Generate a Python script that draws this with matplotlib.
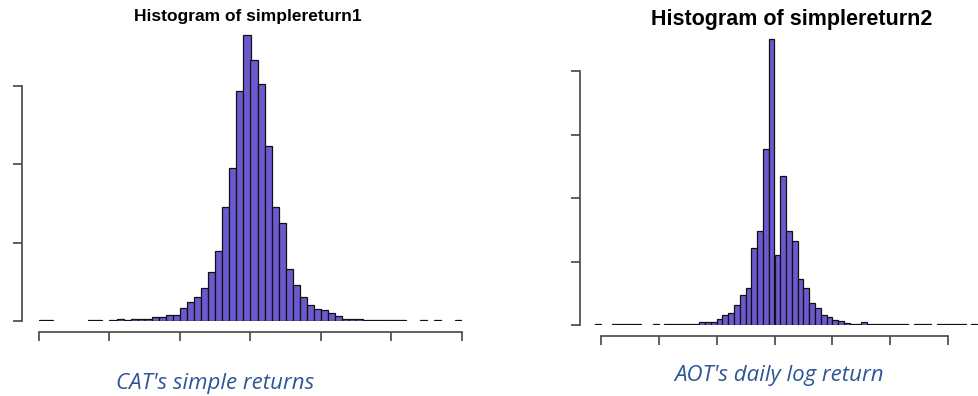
import numpy as np
import matplotlib
matplotlib.use("Agg")
import matplotlib.pyplot as plt

# bin counts (bin width 0.1 in axis units, no tick labels)
cat_edges_start = 0.0
cat_counts = [1, 1, 0, 0, 0, 0, 0, 1, 1, 0,
              1, 2, 1, 2, 2, 2, 5, 5, 8, 8,
              16, 24, 31, 42, 62, 90, 145, 195, 293, 365,
              333, 303, 224, 146, 125, 66, 46, 31, 21, 15,
              14, 10, 7, 3, 2, 3, 1, 1, 1, 1,
              1, 1, 0, 0, 1, 0, 1, 0, 0, 1]

aot_edges_start = -0.1
aot_counts = [1, 0, 0, 1, 1, 1, 1, 1, 0, 0,
              1, 0, 1, 1, 1, 1, 1, 1, 4, 4,
              4, 10, 15, 19, 31, 48, 59, 122, 148, 277,
              451, 110, 234, 148, 133, 72, 59, 34, 26, 15,
              12, 8, 7, 3, 2, 2, 4, 2, 1, 1,
              1, 1, 1, 1, 0, 1, 1, 1, 0, 1,
              1, 1, 1, 1, 0, 1]

titles = ["Histogram of simplereturn1", "Histogram of simplereturn2"]
captions = ["CAT's simple returns", "AOT's daily log return"]
x_ticks = [0, 1, 2, 3, 4, 5, 6]
cat_yticks = [0, 100, 200, 300]
aot_yticks = [0, 100, 200, 300, 400]

W, H = 979, 396
BAR = "#6A5ACD"
AXC = "#444444"
CAP = "#2F5597"

fig = plt.figure(figsize=(W / 100, H / 100), dpi=100)


def px_axes(x0, x1, ytop, ybot):
    # axes placed in pixel coordinates (origin top-left)
    return fig.add_axes([x0 / W, 1 - ybot / H, (x1 - x0) / W, (ybot - ytop) / H])


def draw_hist(ax, start, counts, yticks, ypad, xpad):
    counts = np.array(counts)
    left = start + 0.1 * np.arange(len(counts))
    keep = counts > 0
    ax.bar(left[keep], counts[keep], width=0.1, align="edge", color=BAR,
           edgecolor="#111111", linewidth=0.9)
    for s in ["top", "right"]:
        ax.spines[s].set_visible(False)
    ax.spines["left"].set_position(("outward", ypad))
    ax.spines["bottom"].set_position(("outward", xpad))
    ax.spines["left"].set_bounds(yticks[0], yticks[-1])
    ax.spines["bottom"].set_bounds(x_ticks[0], x_ticks[-1])
    for s in ["left", "bottom"]:
        ax.spines[s].set_color(AXC)
        ax.spines[s].set_linewidth(1.2)
    ax.set_xticks(x_ticks)
    ax.set_yticks(yticks)
    ax.tick_params(length=6.5, width=1.2, color=AXC, labelleft=False, labelbottom=False)


# left panel: x 0..6 -> 39..462 px, y 0..300 -> 321..86 px
ax1 = px_axes(39, 462, 30, 321)
ax1.set_xlim(0, 6)
ax1.set_ylim(0, (321 - 30) / 0.7833)
draw_hist(ax1, cat_edges_start, cat_counts, cat_yticks, 12.2, 7.9)

# right panel: x 0..6 -> 600.7..948.3 px, y 0..400 -> 325..71 px
ppu = (948.3 - 600.7) / 6
ax2 = px_axes(590, 979, 30, 325)
ax2.set_xlim((590 - 600.7) / ppu, (979 - 600.7) / ppu)
ax2.set_ylim(0, (325 - 30) / 0.635)
draw_hist(ax2, aot_edges_start, aot_counts, aot_yticks, 7.2, 7.9)

fig.text(248 / W, 1 - 17 / H, titles[0], ha="center", va="center",
         fontsize=12.5, fontweight="bold", family="Liberation Sans")
fig.text(792 / W, 1 - 20 / H, titles[1], ha="center", va="center",
         fontsize=15.5, fontweight="bold", family="Liberation Sans")

fig.text(215 / W, 1 - 383 / H, captions[0], ha="center", va="center",
         fontsize=16, style="italic", color=CAP, family="Open Sans")
fig.text(779 / W, 1 - 376 / H, captions[1], ha="center", va="center",
         fontsize=16, style="italic", color=CAP, family="Open Sans")

fig.savefig("out.png", dpi=100)
